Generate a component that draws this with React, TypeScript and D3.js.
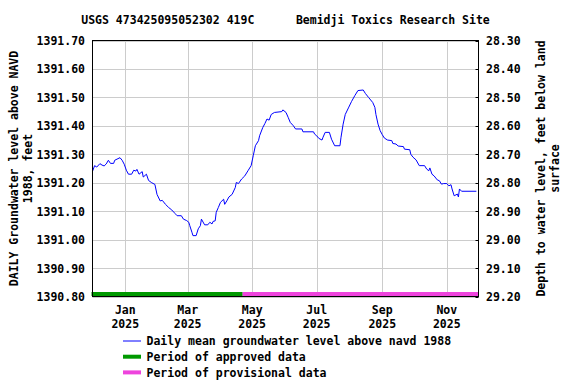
import React from "react";
import * as d3 from "d3";

const TITLE = "USGS 473425095052302 419C      Bemidji Toxics Research Site";
const LEFT_LABEL = ["DAILY Groundwater level above NAVD", "1988, feet"];
const RIGHT_LABEL = ["Depth to water level, feet below land", "surface"];

const dates = [
  "2024-12-01","2024-12-03","2024-12-05","2024-12-08","2024-12-10","2024-12-12","2024-12-14","2024-12-16",
  "2024-12-18","2024-12-21","2024-12-22","2024-12-27","2024-12-29","2024-12-31","2025-01-02","2025-01-04",
  "2025-01-07","2025-01-09","2025-01-11","2025-01-12","2025-01-14","2025-01-17","2025-01-18","2025-01-21",
  "2025-01-23","2025-01-26","2025-01-29","2025-01-31","2025-02-03","2025-02-05","2025-02-08","2025-02-11",
  "2025-02-14","2025-02-17","2025-02-19","2025-02-23","2025-02-25","2025-02-28","2025-03-02","2025-03-03",
  "2025-03-05","2025-03-06","2025-03-09","2025-03-11","2025-03-13","2025-03-14","2025-03-17","2025-03-20",
  "2025-03-22","2025-03-24","2025-03-25","2025-03-27","2025-03-28","2025-03-30","2025-04-01","2025-04-04",
  "2025-04-05","2025-04-07","2025-04-09","2025-04-12","2025-04-15","2025-04-16","2025-04-18","2025-04-21",
  "2025-04-24","2025-04-27","2025-04-30","2025-05-02","2025-05-04","2025-05-07","2025-05-08","2025-05-11",
  "2025-05-13","2025-05-15","2025-05-17","2025-05-19","2025-05-22","2025-05-29","2025-05-30","2025-06-02",
  "2025-06-04","2025-06-06","2025-06-09","2025-06-11","2025-06-17","2025-06-18","2025-06-28","2025-06-29",
  "2025-07-01","2025-07-03","2025-07-06","2025-07-07","2025-07-09","2025-07-13","2025-07-15","2025-07-18",
  "2025-07-23","2025-07-24","2025-07-26","2025-07-28","2025-07-31","2025-08-03","2025-08-06","2025-08-09",
  "2025-08-14","2025-08-16","2025-08-19","2025-08-23","2025-08-25","2025-08-26","2025-08-28","2025-08-30",
  "2025-09-01","2025-09-03","2025-09-06","2025-09-10","2025-09-11","2025-09-14","2025-09-16","2025-09-21",
  "2025-09-22","2025-09-27","2025-09-28","2025-09-30","2025-10-03","2025-10-06","2025-10-11","2025-10-13",
  "2025-10-15","2025-10-16","2025-10-18","2025-10-20","2025-10-23","2025-10-25","2025-10-27","2025-10-29",
  "2025-11-01","2025-11-03","2025-11-05","2025-11-06","2025-11-08","2025-11-11","2025-11-12","2025-11-13",
  "2025-11-15","2025-11-29",
];

const levels = [
  1391.240,1391.260,1391.255,1391.267,1391.262,1391.259,1391.266,1391.279,
  1391.268,1391.268,1391.279,1391.288,1391.279,1391.265,1391.244,1391.230,
  1391.230,1391.244,1391.241,1391.247,1391.230,1391.239,1391.220,1391.230,
  1391.208,1391.200,1391.194,1391.159,1391.136,1391.138,1391.124,1391.113,
  1391.104,1391.092,1391.084,1391.084,1391.072,1391.067,1391.061,1391.049,
  1391.026,1391.014,1391.014,1391.038,1391.049,1391.072,1391.052,1391.052,
  1391.061,1391.055,1391.064,1391.066,1391.096,1391.113,1391.131,1391.142,
  1391.124,1391.136,1391.150,1391.159,1391.183,1391.201,1391.197,1391.213,
  1391.224,1391.242,1391.260,1391.295,1391.330,1391.348,1391.365,1391.394,
  1391.408,1391.424,1391.420,1391.440,1391.447,1391.450,1391.456,1391.447,
  1391.430,1391.412,1391.400,1391.389,1391.389,1391.379,1391.379,1391.371,
  1391.365,1391.356,1391.350,1391.360,1391.377,1391.377,1391.353,1391.330,
  1391.330,1391.360,1391.406,1391.440,1391.463,1391.486,1391.506,1391.524,
  1391.526,1391.514,1391.500,1391.482,1391.465,1391.440,1391.406,1391.383,
  1391.369,1391.357,1391.350,1391.348,1391.338,1391.336,1391.329,1391.327,
  1391.318,1391.316,1391.300,1391.290,1391.280,1391.260,1391.260,1391.248,
  1391.242,1391.252,1391.230,1391.224,1391.210,1391.207,1391.195,1391.197,
  1391.197,1391.189,1391.193,1391.178,1391.154,1391.160,1391.150,1391.178,
  1391.170,1391.170,
];

const xDomain = ["2024-12-01", "2025-12-01"];
const xTicks = ["2025-01-01", "2025-03-01", "2025-05-01", "2025-07-01", "2025-09-01", "2025-11-01"];
const leftDomain = [1390.8, 1391.7];
const leftTicks = [1390.8, 1390.9, 1391.0, 1391.1, 1391.2, 1391.3, 1391.4, 1391.5, 1391.6, 1391.7];
const rightDomain = [29.2, 28.3];
const rightTicks = [28.3, 28.4, 28.5, 28.6, 28.7, 28.8, 28.9, 29.0, 29.1, 29.2];
const approvedPeriod = ["2024-12-01", "2025-04-22"];
const provisionalPeriod = ["2025-04-22", "2025-12-01"];
const legendItems = [
  { label: "Daily mean groundwater level above navd 1988", color: "#0000ff", width: 1 },
  { label: "Period of approved data", color: "#009900", width: 4 },
  { label: "Period of provisional data", color: "#ee44dd", width: 4 },
];

const W = 576, H = 384;
const L = 92.5, R = 478.5, T = 40.5, B = 296.5;
const FONT = "'DejaVu Sans Mono', monospace";
const FS = 11.5;

export default function App() {
  const parse = d3.utcParse("%Y-%m-%d");
  const x = d3.scaleUtc().domain(xDomain.map((d) => parse(d)!)).range([L, R]);
  const y = d3.scaleLinear().domain(leftDomain).range([B, T]);
  const y2 = d3.scaleLinear().domain(rightDomain).range([B, T]);
  const pts = dates.map((d, i) => [x(parse(d)!), y(levels[i])] as [number, number]);
  const line = d3.line().curve(d3.curveLinear)(pts) || "";
  const fmtMon = d3.utcFormat("%b");
  const fmtYr = d3.utcFormat("%Y");
  const cx = (L + R) / 2;
  const cy = (T + B) / 2;
  const textStyle = { fontFamily: FONT, fontSize: FS, fontWeight: "bold" as const, fill: "#000" };

  return (
    <svg width={W} height={H} style={{ position: "absolute", left: 0, top: 0, background: "#fff" }}>
      <rect x={0} y={0} width={W} height={H} fill="#fff" />
      <text x={cx} y={23.5} textAnchor="middle" style={{ ...textStyle, whiteSpace: "pre" }}>{TITLE}</text>
      {leftTicks.map((t) => (
        <line key={"hg" + t} x1={L} x2={R} y1={Math.round(y(t)) + 0.5} y2={Math.round(y(t)) + 0.5} stroke="#cccccc" />
      ))}
      {xTicks.map((t) => {
        const xx = Math.round(x(parse(t)!)) + 0.5;
        return <line key={"vg" + t} x1={xx} x2={xx} y1={T} y2={B} stroke="#cccccc" />;
      })}
      {rightTicks.map((t) => {
        const yy = Math.round(y2(t)) + 0.5;
        return <line key={"rt" + t} x1={R - 3} x2={R} y1={yy} y2={yy} stroke="#000" />;
      })}
      <line x1={x(parse(approvedPeriod[0])!) - 1} x2={x(parse(approvedPeriod[1])!)} y1={B - 2.5} y2={B - 2.5} stroke={legendItems[1].color} strokeWidth={4} />
      <line x1={x(parse(provisionalPeriod[0])!)} x2={x(parse(provisionalPeriod[1])!)} y1={B - 2.5} y2={B - 2.5} stroke={legendItems[2].color} strokeWidth={4} />
      <path d={line} fill="none" stroke="#0000ff" strokeWidth={1} />
      <rect x={L} y={T} width={R - L} height={B - T} fill="none" stroke="#000" strokeWidth={1} />
      {leftTicks.map((t) => (
        <text key={"lt" + t} x={85} y={y(t) + 4.5} textAnchor="end" style={textStyle}>{t.toFixed(2)}</text>
      ))}
      {rightTicks.map((t) => (
        <text key={"rl" + t} x={486} y={y2(t) + 4.5} textAnchor="start" style={textStyle}>{t.toFixed(2)}</text>
      ))}
      {xTicks.map((t) => {
        const xx = x(parse(t)!);
        return (
          <g key={"xl" + t}>
            <text x={xx} y={314} textAnchor="middle" style={textStyle}>{fmtMon(parse(t)!)}</text>
            <text x={xx} y={327.5} textAnchor="middle" style={textStyle}>{fmtYr(parse(t)!)}</text>
          </g>
        );
      })}
      <g transform={`translate(18,${cy}) rotate(-90)`}>
        <text x={0} y={0} textAnchor="middle" style={textStyle}>{LEFT_LABEL[0]}</text>
        <text x={0} y={13.5} textAnchor="middle" style={textStyle}>{LEFT_LABEL[1]}</text>
      </g>
      <g transform={`translate(545,${cy}) rotate(-90)`}>
        <text x={0} y={0} textAnchor="middle" style={textStyle}>{RIGHT_LABEL[0]}</text>
        <text x={0} y={13.5} textAnchor="middle" style={textStyle}>{RIGHT_LABEL[1]}</text>
      </g>
      {legendItems.map((it, i) => {
        const ly = 341 + i * 15.7;
        return (
          <g key={"lg" + i}>
            <line x1={123} x2={141} y1={ly} y2={ly} stroke={it.color} strokeWidth={it.width} />
            <text x={146.5} y={ly + 4.3} style={textStyle}>{it.label}</text>
          </g>
        );
      })}
    </svg>
  );
}
